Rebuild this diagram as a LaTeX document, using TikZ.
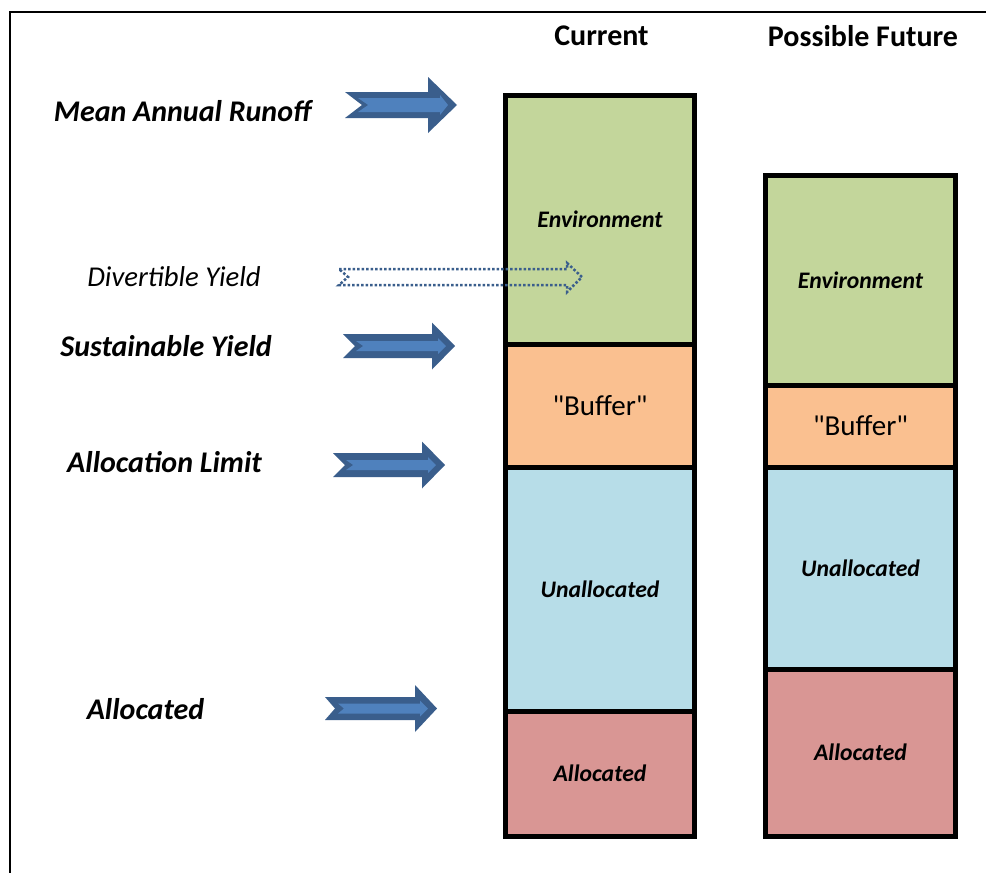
\documentclass[tikz,border=0pt]{standalone}
\usepackage{fontspec}
\setmainfont{Carlito}[Ligatures=TeXOff]
\definecolor{envg}{RGB}{195,214,155}
\definecolor{bufo}{RGB}{250,192,144}
\definecolor{unab}{RGB}{183,221,232}
\definecolor{allr}{RGB}{217,150,148}
\definecolor{arrfill}{RGB}{79,129,189}
\definecolor{arrline}{RGB}{58,94,140}
% #1 tail x, #2 centre y, #3 length, #4 body half, #5 head half, #6 head length, #7 notch, #8 inner body half
\newcommand{\bigarrowat}[8]{%
  \fill[arrline] (#1,#2-#4) -- (#1+#3-#6,#2-#4) -- (#1+#3-#6,#2-#5) -- (#1+#3,#2) -- (#1+#3-#6,#2+#5) -- (#1+#3-#6,#2+#4) -- (#1,#2+#4) -- (#1+#7,#2) -- cycle;
  \fill[arrfill] (#1+13,#2-#8) -- (#1+#3-17,#2-#8) -- (#1+#3-17,#2-#8-3) -- (#1+#3-9,#2) -- (#1+#3-17,#2+#8+3) -- (#1+#3-17,#2+#8) -- (#1+13,#2+#8) -- (#1+13+#7*0.6,#2) -- cycle;}
\tikzset{
  dotarrow/.style={draw=arrline, line width=2.5pt, dotted, line join=miter},
  colbox/.style={draw=black, line width=5pt, inner sep=0pt, outer sep=0pt, font=\fontsize{23.7}{26}\selectfont\bfseries\itshape},
  bufbox/.style={colbox, font=\fontsize{29}{32}\selectfont},
  lbl/.style={font=\fontsize{30}{34}\selectfont\bfseries\itshape, inner sep=0pt},
  head/.style={font=\fontsize{30}{34}\selectfont\bfseries, inner sep=0pt}
}
\begin{document}
\begin{tikzpicture}[x=1pt,y=-1pt]
\useasboundingbox (0,0) rectangle (986,873);
\fill[white] (0,0) rectangle (986,873);
\draw[line width=2pt] (986,12) -- (10,12) -- (10,873);
% headings
\node[head] (hcur) at (601.5,36) {Current};
\node[head] (hfut) at (863,36) {Possible Future};
% current column
\node[colbox, fill=envg, minimum width=189pt, minimum height=249pt] (cenv) at (600,219.5) {Environment};
\node[bufbox, fill=bufo, minimum width=189pt, minimum height=123pt] (cbuf) at (600,405.5) {"Buffer"};
\node[colbox, fill=unab, minimum width=189pt, minimum height=244pt] (cuna) at (600,589) {Unallocated};
\node[colbox, fill=allr, minimum width=189pt, minimum height=125pt] (call) at (600,773.5) {Allocated};
% future column
\node[colbox, fill=envg, minimum width=190pt, minimum height=209.5pt] (fenv) at (860.5,280.25) {Environment};
\node[bufbox, fill=bufo, minimum width=190pt, minimum height=82pt] (fbuf) at (860.5,426) {"Buffer"};
\node[colbox, fill=unab, minimum width=190pt, minimum height=202pt] (funa) at (860.5,568) {Unallocated};
\node[colbox, fill=allr, minimum width=190pt, minimum height=167pt] (fall) at (860.5,752.5) {Allocated};
% left labels
\node[lbl] (lmar) at (182.5,111) {Mean Annual Runoff};
\node[lbl, font=\fontsize{28.7}{32}\selectfont\itshape] (ldiv) at (174,277) {Divertible Yield};
\node[lbl] (lsus) at (166,346) {Sustainable Yield};
\node[lbl] (lall) at (164.5,462) {Allocation Limit};
\node[lbl] (lalc) at (145.5,709) {Allocated};
% arrows
\bigarrowat{345}{105}{112}{13}{28}{29}{17}{7}
\bigarrowat{343}{346}{112}{12}{23.5}{23}{12}{5}
\bigarrowat{333}{465}{112}{12}{23.5}{23}{12}{5}
\bigarrowat{325}{708.5}{112}{11.5}{23.5}{22}{10}{5}
\draw[dotarrow] (339,269) -- (567,269) -- (567,263) -- (582,277) -- (567,292) -- (567,285) -- (339,285) -- (348,277) -- cycle;
\end{tikzpicture}
\end{document}
